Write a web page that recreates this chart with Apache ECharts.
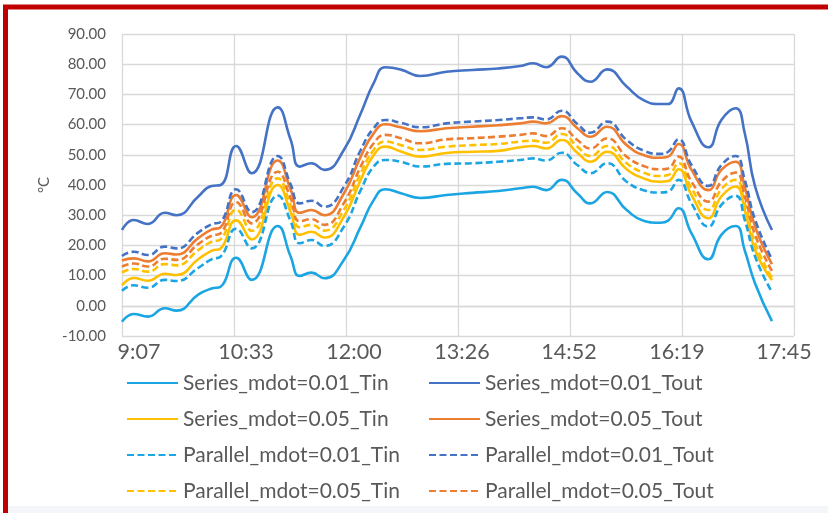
<!DOCTYPE html>
<html>
<head>
<meta charset="utf-8">
<script src="https://cdn.jsdelivr.net/npm/echarts@6/dist/echarts.min.js"></script>
<style>
html,body{margin:0;padding:0;background:#fff;}
#chart{width:828px;height:513px;}
</style>
</head>
<body>
<div id="chart"></div>
<script>
// Sample times (clock)
const times = ["9:07","9:16","9:27","9:40","9:49","10:06","10:16","10:23","10:35","10:47",
  "11:07","11:17","11:24","11:33","11:43","11:58","12:11","12:21","12:30","12:42",
  "12:57","13:17","13:37","13:57","14:14","14:24","14:34","14:46","14:58","15:08",
  "15:21","15:36","15:49","16:02","16:08","16:16","16:26","16:39","16:49","17:00",
  "17:07","17:15","17:28"];

const seriesMdot001Tin  = [-5.3,-2.7,-3.6,-0.8,-1.6,3.8,5.7,6.3,15.9,8.6,26.4,16.3,9.9,11.0,9.1,15.2,26.2,35.0,38.6,37.3,35.7,36.7,37.4,38.0,38.9,39.4,38.3,41.7,37.2,33.9,37.7,31.7,28.2,27.5,28.2,32.3,24.0,15.4,23.5,26.4,18.4,7.4,-5.1];
const seriesMdot001Tout = [25.1,28.4,27.1,30.8,30.0,36.3,39.7,40.0,52.9,43.9,65.7,55.0,46.1,47.2,45.0,51.6,63.7,73.7,79.0,78.2,76.1,77.5,78.1,78.6,79.4,80.3,79.0,82.5,77.0,74.2,78.3,72.6,68.1,66.8,66.8,72.0,61.0,52.5,61.5,65.4,57.2,39.5,25.1];
const seriesMdot005Tin  = [6.8,9.2,8.3,10.6,10.2,15.5,18.2,19.0,28.3,22.0,40.0,31.0,23.5,24.5,22.6,29.5,41.7,49.9,52.7,51.1,49.4,50.6,51.0,51.3,52.5,52.9,52.1,54.9,50.7,47.7,51.0,45.2,42.2,41.1,41.3,45.2,36.7,29.0,36.2,39.5,31.8,18.5,8.5];
const seriesMdot005Tout = [15.0,15.7,14.7,17.4,17.0,22.5,25.2,26.0,36.7,29.3,48.1,38.5,30.8,31.7,30.0,37.2,49.4,57.1,60.1,59.1,57.8,58.8,59.3,59.8,60.4,61.0,60.4,62.8,58.8,56.0,59.3,53.2,49.9,49.0,49.4,53.6,45.0,38.3,45.0,47.7,39.4,26.2,13.8];
const parallelMdot001Tin  = [5.0,6.8,6.0,8.6,8.2,12.6,15.4,16.3,25.5,19.0,36.5,28.0,20.7,21.8,19.8,26.2,38.3,46.1,48.3,47.7,46.1,47.0,47.2,47.7,48.3,48.8,48.1,50.7,46.6,43.9,47.2,41.1,38.3,37.5,37.8,41.7,33.9,26.2,33.4,36.4,28.5,16.3,4.5];
const parallelMdot001Tout = [16.5,17.9,16.8,19.6,19.0,24.3,27.0,27.8,38.6,31.0,49.6,40.2,33.9,34.8,32.8,39.4,51.6,58.8,61.5,60.6,59.1,60.4,61.0,61.5,62.1,62.4,61.7,64.6,60.2,57.3,61.0,54.9,51.4,50.3,51.0,55.1,46.6,39.7,46.6,49.6,41.7,28.5,15.4];
const parallelMdot005Tin  = [11.0,12.2,11.3,13.8,13.4,18.5,21.2,22.0,31.8,24.8,42.2,33.3,26.0,26.8,24.9,31.8,43.9,51.6,54.4,53.2,51.6,52.7,53.2,53.6,54.4,54.7,54.0,56.9,52.7,49.6,52.9,47.2,44.1,43.0,43.3,47.2,38.9,31.7,38.6,41.7,34.0,20.7,9.3];
const parallelMdot005Tout = [13.0,14.0,13.0,15.6,15.2,20.5,23.2,24.0,34.3,27.3,44.4,35.6,28.0,28.7,26.8,34.0,46.1,53.8,56.6,55.5,53.8,55.1,55.5,56.0,56.6,57.1,56.2,58.8,54.9,52.1,55.5,49.4,46.3,45.2,45.5,49.4,41.1,34.5,41.1,44.1,36.2,23.5,11.5];

const yTicks = { min: -10, max: 90, step: 10 };
const xStart = "9:07", xEnd = "17:45", xDivisions = 6;

const names = ["Series_mdot=0.01_Tin","Series_mdot=0.01_Tout","Series_mdot=0.05_Tin","Series_mdot=0.05_Tout",
  "Parallel_mdot=0.01_Tin","Parallel_mdot=0.01_Tout","Parallel_mdot=0.05_Tin","Parallel_mdot=0.05_Tout"];
const values = [seriesMdot001Tin, seriesMdot001Tout, seriesMdot005Tin, seriesMdot005Tout,
  parallelMdot001Tin, parallelMdot001Tout, parallelMdot005Tin, parallelMdot005Tout];
const colors = ["#1BA5E3","#4472C4","#FFC000","#ED7D31","#1BA5E3","#4472C4","#FFC000","#ED7D31"];
const dashed = [false,false,false,false,true,true,true,true];

function toMin(t){ const p = t.split(":"); return (+p[0])*60 + (+p[1]); }
const t0 = toMin(xStart);
const span = (toMin(xEnd) - t0) * 60; // seconds
const toSec = t => (toMin(t) - t0) * 60;

const series = names.map((n,i) => ({
  name: n, type: 'line', smooth: 0.5, symbol: 'none',
  data: times.map((t,k) => [toSec(t), values[i][k]]),
  lineStyle: { color: colors[i], width: 2.6, type: dashed[i] ? [7,3.5] : 'solid' },
  itemStyle: { color: colors[i] }
}));

const shifts = [17,12,8,4,-1,-5,-10];
const rich = {};
shifts.forEach((s,i) => {
  rich['l'+i] = { fontFamily: 'Lato', fontSize: 21.5, color: '#595959',
    padding: s >= 0 ? [0,0,0,2*s] : [0,-2*s,0,0] };
});

const legendCommon = {
  orient: 'vertical', top: 366, itemWidth: 51, itemHeight: 14, itemGap: 12,
  itemStyle: { opacity: 0, borderWidth: 0 },
  textStyle: { fontFamily: 'Lato', fontSize: 21, color: '#595959', lineHeight: 24 }
};

const chart = echarts.init(document.getElementById('chart'), null, {renderer:'canvas'});
chart.setOption({
  backgroundColor: '#fff',
  animation: false,
  grid: { left: 122, right: 34, top: 34, bottom: 177, containLabel: false },
  xAxis: {
    type: 'value', min: 0, max: span, interval: span / xDivisions,
    axisLine: { show: true, lineStyle: { color: '#D9D9D9', width: 1.3 } },
    axisTick: { show: false },
    splitLine: { show: true, lineStyle: { color: '#D9D9D9', width: 1.3 } },
    axisLabel: {
      margin: 5, showMinLabel: true, showMaxLabel: true,
      formatter: (v, idx) => {
        const m = Math.round(t0 + v / 60);
        const s = Math.floor(m/60) + ':' + String(m % 60).padStart(2,'0');
        return '{l' + idx + '|' + s + '}';
      },
      rich: rich
    }
  },
  yAxis: {
    type: 'value', min: yTicks.min, max: yTicks.max, interval: yTicks.step,
    name: '°C', nameLocation: 'middle', nameGap: 70, nameRotate: 90,
    nameTextStyle: { fontFamily: 'Lato', fontSize: 15, color: '#595959' },
    axisLine: { show: false }, axisTick: { show: false },
    splitLine: { lineStyle: { color: '#D9D9D9', width: 1.3 } },
    axisLabel: { margin: 16, fontFamily: 'Lato', fontSize: 15, color: '#595959',
      formatter: v => v.toFixed(2) }
  },
  legend: [
    Object.assign({}, legendCommon, { left: 121, data: [names[0], names[2], names[4], names[6]] }),
    Object.assign({}, legendCommon, { left: 423, data: [names[1], names[3], names[5], names[7]] })
  ],
  graphic: [
    { type: 'rect', silent: true, z: -1, shape: { x: 8, y: 506, width: 830, height: 10 },
      style: { fill: '#F4F5F8' } },
    { type: 'rect', silent: true, z: 100, shape: { x: 5.5, y: 7, width: 900, height: 600 },
      style: { fill: 'none', stroke: '#C00000', lineWidth: 5 } }
  ],
  series: series
});
</script>
</body>
</html>
